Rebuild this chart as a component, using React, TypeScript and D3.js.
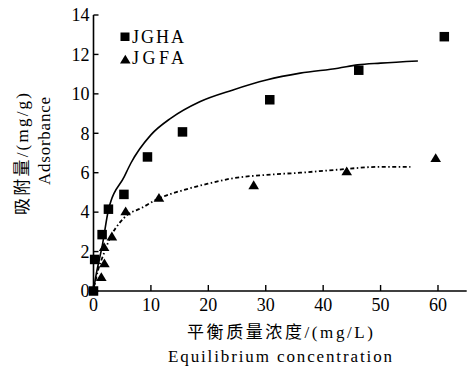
import React from 'react';
import * as d3 from 'd3';

const ghaC = [0, 0.2, 1.5, 2.6, 5.3, 9.4, 15.5, 30.7, 46.2, 61.1];
const ghaQ = [0, 1.6, 2.86, 4.15, 4.9, 6.8, 8.07, 9.7, 11.2, 12.9];
const gfaC = [1.36, 1.9, 1.85, 3.2, 5.6, 11.4, 27.9, 44.1, 59.6];
const gfaQ = [0.7, 1.4, 2.22, 2.76, 4.03, 4.72, 5.36, 6.06, 6.73];

// fitted curves
const ghaFitC = [0, 0.2, 1.6, 2.6, 5.36, 6.5, 10, 13.5, 18.5, 24.3, 30.1, 36, 42.6, 46, 50, 56.5];
const ghaFitQ = [0, 0.39, 2.42, 4.11, 5.8, 6.48, 7.92, 8.77, 9.6, 10.2, 10.7, 11.05, 11.3, 11.47, 11.56, 11.67];
const gfaFitC = [0, 0.8, 1.6, 3.0, 4.5, 5.9, 8.3, 11.2, 15.8, 19.6, 24.3, 30.1, 36, 42.4, 50, 55.2];
const gfaFitQ = [0, 1.07, 1.74, 2.76, 3.44, 3.86, 4.2, 4.67, 5.13, 5.42, 5.72, 5.89, 6.0, 6.15, 6.3, 6.3];

const yTicks = [0, 2, 4, 6, 8, 10, 12, 14];
const xTicks = [0, 10, 20, 30, 40, 50, 60];
const legendLabels = ['JGHA', 'JGFA'];

const W = 472;
const H = 367;
const serif = '"Liberation Serif"';
const cjk = '"Noto Sans CJK SC"';

const x = d3.scaleLinear().domain([0, 65]).range([93.5, 466.7]);
const y = d3.scaleLinear().domain([0, 14]).range([291, 15]);

const line = d3.line<[number, number]>()
  .x(d => x(d[0]))
  .y(d => y(d[1]))
  .curve(d3.curveMonotoneX);

const tri = (cx: number, cy: number) =>
  `M${cx},${cy - 5} L${cx + 5.3},${cy + 3.8} L${cx - 5.3},${cy + 3.8} Z`;

const sq = 9.5;

function App() {
  const ghaPath = line(ghaFitC.map((c, i) => [c, ghaFitQ[i]] as [number, number])) || '';
  const gfaPath = line(gfaFitC.map((c, i) => [c, gfaFitQ[i]] as [number, number])) || '';

  return (
    <svg width={W} height={H} style={{ position: 'absolute', left: 0, top: 0, background: '#fff' }}>
      {/* axes */}
      <line x1={x(0)} x2={x(0)} y1={y(0)} y2={y(14)} stroke="#000" strokeWidth={1.6} />
      <line x1={x(0)} x2={x(65)} y1={y(0)} y2={y(0)} stroke="#000" strokeWidth={1.6} />
      {yTicks.map(t => (
        <g key={'y' + t}>
          <line x1={x(0)} x2={x(0) + 5} y1={y(t)} y2={y(t)} stroke="#000" strokeWidth={1.4} />
          <text x={x(0) - 4} y={y(t)} dy="0.35em" textAnchor="end"
            style={{ fontFamily: serif, fontSize: '18px' }}>{t}</text>
        </g>
      ))}
      {xTicks.map(t => (
        <g key={'x' + t}>
          <line x1={x(t)} x2={x(t)} y1={y(0)} y2={y(0) - 6} stroke="#000" strokeWidth={1.4} />
          <text x={x(t)} y={y(0) + 20} textAnchor="middle"
            style={{ fontFamily: serif, fontSize: '18px' }}>{t}</text>
        </g>
      ))}

      {/* fitted curves */}
      <path d={ghaPath} fill="none" stroke="#000" strokeWidth={1.6} />
      <path d={gfaPath} fill="none" stroke="#000" strokeWidth={1.8} strokeDasharray="4,2.5,1.5,2.5" />

      {/* markers */}
      {ghaC.map((c, i) => (
        <rect key={'s' + i} x={x(c) - sq / 2} y={y(ghaQ[i]) - sq / 2} width={sq} height={sq} fill="#000" />
      ))}
      {gfaC.map((c, i) => (
        <path key={'t' + i} d={tri(x(c), y(gfaQ[i]))} fill="#000" />
      ))}

      {/* legend */}
      <rect x={120.5} y={32.5} width={9} height={8.5} fill="#000" />
      <path d={tri(125.3, 59.8)} fill="#000" />
      {legendLabels.map((l, i) => (
        <text key={l} x={132} y={43 + i * 21} textLength={52} lengthAdjust="spacing"
          style={{ fontFamily: serif, fontSize: '18px' }}>{l}</text>
      ))}

      {/* x titles */}
      <text x={187} y={338} textLength={186} lengthAdjust="spacing" style={{ fontSize: '17px' }}>
        <tspan style={{ fontFamily: cjk }}>平衡质量浓度</tspan>
        <tspan style={{ fontFamily: serif }}>/(mg/L)</tspan>
      </text>
      <text x={168} y={361.5} textLength={224} lengthAdjust="spacing"
        style={{ fontFamily: serif, fontSize: '17px' }}>Equilibrium concentration</text>

      {/* y titles */}
      <text transform="translate(27.5,215) rotate(-90)" textLength={122} lengthAdjust="spacing"
        style={{ fontSize: '17px' }}>
        <tspan style={{ fontFamily: cjk }}>吸附量</tspan>
        <tspan style={{ fontFamily: serif }}>/(mg/g)</tspan>
      </text>
      <text transform="translate(50,185) rotate(-90)" textLength={88} lengthAdjust="spacing"
        style={{ fontFamily: serif, fontSize: '17px' }}>Adsorbance</text>
    </svg>
  );
}

export default App;
